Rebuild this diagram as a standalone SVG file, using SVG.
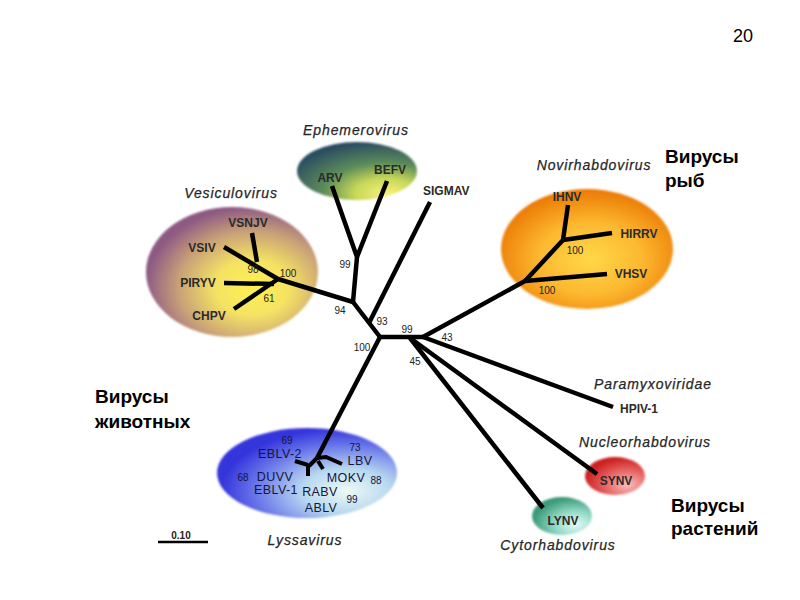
<svg xmlns="http://www.w3.org/2000/svg" width="800" height="600" viewBox="0 0 800 600">
<defs>
<style>
.br{stroke:#000;stroke-width:4.5;fill:none;stroke-linecap:butt;stroke-linejoin:round}
.bs{stroke:#000;stroke-width:4;fill:none}
.leaf{font-family:"Liberation Sans",Arial,sans-serif;font-size:12px;font-weight:bold;fill:#2a2a2a}
.ly{font-family:"Liberation Sans",Arial,sans-serif;font-size:12.5px;fill:#14143c;letter-spacing:0.4px}
.bt{font-family:"Liberation Sans",Arial,sans-serif;font-size:10px;fill:#222}
.btl{font-family:"Liberation Sans",Arial,sans-serif;font-size:10px;fill:#14143c}
.gen{font-family:"Liberation Sans",Arial,sans-serif;font-size:14px;font-style:italic;fill:#262626;letter-spacing:0.9px;stroke:#262626;stroke-width:0.25}
.ru{font-family:"Liberation Sans",Arial,sans-serif;font-size:19px;font-weight:bold;fill:#000}
</style>
<filter id="soft" x="-10%" y="-10%" width="120%" height="120%"><feGaussianBlur stdDeviation="1.2"/></filter>
<radialGradient id="gEph" cx="0.72" cy="0.85" r="0.85" fx="0.75" fy="0.9">
<stop offset="0" stop-color="#f8f27a"/><stop offset="0.3" stop-color="#c8d858"/><stop offset="0.6" stop-color="#5c8c5a"/><stop offset="1" stop-color="#2c4e60"/>
</radialGradient>
<radialGradient id="gVes" cx="0.62" cy="0.62" r="0.62">
<stop offset="0" stop-color="#fff050"/><stop offset="0.35" stop-color="#f4e264"/><stop offset="0.7" stop-color="#c8a078"/><stop offset="1" stop-color="#8e5a84"/>
</radialGradient>
<radialGradient id="gNov" cx="0.52" cy="0.58" r="0.6">
<stop offset="0" stop-color="#ffd848"/><stop offset="0.5" stop-color="#fcb830"/><stop offset="1" stop-color="#ea7400"/>
</radialGradient>
<radialGradient id="gLys" cx="0.72" cy="0.7" r="0.7">
<stop offset="0" stop-color="#eefaf4"/><stop offset="0.35" stop-color="#b8d8f0"/><stop offset="0.75" stop-color="#6470e8"/><stop offset="1" stop-color="#3434dc"/>
</radialGradient>
<radialGradient id="gSyn" cx="0.7" cy="0.72" r="0.7">
<stop offset="0" stop-color="#fac0c0"/><stop offset="0.5" stop-color="#e86868"/><stop offset="1" stop-color="#cc2020"/>
</radialGradient>
<radialGradient id="gLyn" cx="0.72" cy="0.72" r="0.7">
<stop offset="0" stop-color="#e6fcfa"/><stop offset="0.5" stop-color="#90d8c4"/><stop offset="1" stop-color="#3c9a78"/>
</radialGradient>
</defs>
<rect width="800" height="600" fill="#fff"/>
<text x="733" y="42" font-family="Liberation Sans,Arial,sans-serif" font-size="18" fill="#000">20</text>

<g id="clusters">
<ellipse cx="357" cy="171" rx="60" ry="29" fill="url(#gEph)" filter="url(#soft)"/>
<ellipse cx="232" cy="272" rx="86" ry="65" fill="url(#gVes)" filter="url(#soft)"/>
<ellipse cx="587" cy="249" rx="86" ry="60" fill="url(#gNov)" filter="url(#soft)"/>
<ellipse cx="307" cy="473" rx="90" ry="45" fill="url(#gLys)" filter="url(#soft)"/>
<ellipse cx="615" cy="476" rx="30" ry="19" fill="url(#gSyn)" filter="url(#soft)"/>
<ellipse cx="562" cy="516" rx="30" ry="19" fill="url(#gLyn)" filter="url(#soft)"/>
</g>

<g id="connectors">
<path class="br" d="M380,337 L353,302"/>
<path class="br" d="M369,323 L430,202"/>
<path class="br" d="M353,302 L357,257 L332,186"/>
<path class="br" d="M357,257 L387,181"/>
<path class="br" d="M353,302 L278,279"/>
<path class="br" d="M278,279 L224,247"/>
<path class="br" d="M257,262 L252,233"/>
<path class="br" d="M224,283 L274,284"/>
<path class="br" d="M234,309 L278,279"/>
<path class="br" d="M380,337 L424,337"/>
<path class="br" d="M380,337 L317,458"/>
<path class="br" d="M410,338 L543,508"/>
<path class="br" d="M410,338 L597,474"/>
<path class="br" d="M423,337 L613,407"/>
<path class="br" d="M423,337 L525,281 L607,274"/>
<path class="br" d="M525,281 L563,240 L568,205"/>
<path class="br" d="M563,240 L612,233"/>
<path class="bs" d="M317,458 L326,457 L342,464"/>
<path class="bs" d="M317,458 L309,466"/>
<path class="bs" d="M295,461 L308,465"/>
<path class="bs" d="M308,465 L308,476"/>
<path class="bs" d="M318,461 L323,469"/>
<path stroke="#000" stroke-width="2.5" d="M158,542 L208,542"/>
</g>

<g id="labels-tree">
<text class="gen" x="356" y="135" text-anchor="middle">Ephemerovirus</text>
<text class="gen" x="231" y="198" text-anchor="middle">Vesiculovirus</text>
<text class="gen" x="594" y="170" text-anchor="middle">Novirhabdovirus</text>
<text class="gen" x="653" y="389" text-anchor="middle">Paramyxoviridae</text>
<text class="gen" x="645" y="447" text-anchor="middle">Nucleorhabdovirus</text>
<text class="gen" x="558" y="550" text-anchor="middle">Cytorhabdovirus</text>
<text class="gen" x="305" y="545" text-anchor="middle">Lyssavirus</text>
<text x="181" y="539" text-anchor="middle" font-family="Liberation Sans,Arial,sans-serif" font-size="10" font-weight="bold" fill="#222">0.10</text>
</g>

<g id="ARV"><text class="leaf" x="330" y="182" text-anchor="middle">ARV</text></g>
<g id="BEFV"><text class="leaf" x="390" y="174" text-anchor="middle">BEFV</text></g>
<g id="SIGMAV"><text class="leaf" x="423" y="195">SIGMAV</text></g>
<g id="VSNJV"><text class="leaf" x="248" y="227" text-anchor="middle">VSNJV</text></g>
<g id="VSIV"><text class="leaf" x="202" y="252" text-anchor="middle">VSIV</text></g>
<g id="PIRYV"><text class="leaf" x="198" y="287" text-anchor="middle">PIRYV</text></g>
<g id="CHPV"><text class="leaf" x="209" y="320" text-anchor="middle">CHPV</text></g>
<g id="IHNV"><text class="leaf" x="567" y="201" text-anchor="middle">IHNV</text></g>
<g id="HIRRV"><text class="leaf" x="639" y="238" text-anchor="middle">HIRRV</text></g>
<g id="VHSV"><text class="leaf" x="631" y="278" text-anchor="middle">VHSV</text></g>
<g id="HPIV-1"><text class="leaf" x="620" y="413" font-size="11">HPIV-1</text></g>
<g id="SYNV"><text class="leaf" x="616" y="485" text-anchor="middle" font-size="11.5">SYNV</text></g>
<g id="LYNV"><text class="leaf" x="563" y="525" text-anchor="middle" font-size="11.5">LYNV</text></g>

<g id="lyssa-labels">
<text class="btl" x="287" y="444" text-anchor="middle">69</text>
<text class="ly" x="280" y="458" text-anchor="middle">EBLV-2</text>
<text class="btl" x="355" y="451" text-anchor="middle">73</text>
<text class="ly" x="360" y="465" text-anchor="middle">LBV</text>
<text class="btl" x="243" y="481" text-anchor="middle">68</text>
<text class="ly" x="275" y="481" text-anchor="middle">DUVV</text>
<text class="ly" x="346" y="482" text-anchor="middle">MOKV</text>
<text class="btl" x="376" y="484" text-anchor="middle">88</text>
<text class="ly" x="276" y="494" text-anchor="middle">EBLV-1</text>
<text class="ly" x="320" y="496" text-anchor="middle">RABV</text>
<text class="btl" x="352" y="503" text-anchor="middle">99</text>
<text class="ly" x="321" y="512" text-anchor="middle">ABLV</text>
</g>

<g id="bootstrap">
<text class="bt" x="253" y="273" text-anchor="middle">98</text>
<text class="bt" x="288" y="277" text-anchor="middle">100</text>
<text class="bt" x="269" y="302" text-anchor="middle">61</text>
<text class="bt" x="345" y="268" text-anchor="middle">99</text>
<text class="bt" x="340" y="314" text-anchor="middle">94</text>
<text class="bt" x="382" y="325" text-anchor="middle">93</text>
<text class="bt" x="362" y="351" text-anchor="middle">100</text>
<text class="bt" x="407" y="333" text-anchor="middle">99</text>
<text class="bt" x="447" y="341" text-anchor="middle">43</text>
<text class="bt" x="415" y="365" text-anchor="middle">45</text>
<text class="bt" x="575" y="254" text-anchor="middle">100</text>
<text class="bt" x="547" y="294" text-anchor="middle">100</text>
</g>

<g id="groups">
<text class="ru" x="665" y="163">Вирусы</text>
<text class="ru" x="665" y="187">рыб</text>
<text class="ru" x="95" y="403">Вирусы</text>
<text class="ru" x="95" y="428">животных</text>
<text class="ru" x="671" y="512">Вирусы</text>
<text class="ru" x="671" y="535">растений</text>
</g>
</svg>
